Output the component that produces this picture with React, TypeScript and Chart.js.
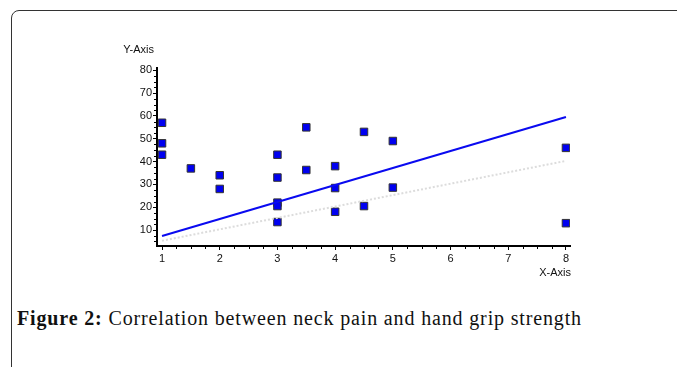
import React, { useEffect, useRef } from "react";
import { Chart, registerables } from "chart.js";

Chart.register(...registerables);

// Scatter observations (neck pain score vs hand grip strength)
const xValues = [1, 1, 1, 1.5, 2, 2, 3, 3, 3, 3, 3, 3.5, 3.5, 4, 4, 4, 4.5, 4.5, 5, 5, 8, 8];
const yValues = [57, 48, 43, 37, 34, 28, 43, 33, 22, 20.5, 13.5, 55, 36.3, 38, 28.4, 18, 53, 20.5, 49, 28.6, 46, 13];

// Fitted line (solid blue) and reference line (dotted light grey)
const fitX = [1, 8];
const fitY = [7.4, 59.5];
const refX = [1, 8];
const refY = [5.3, 40.3];

const xTickValues = [1, 2, 3, 4, 5, 6, 7, 8];
const yTickValues = [10, 20, 30, 40, 50, 60, 70, 80];

const xAxisTitle = "X-Axis";
const yAxisTitle = "Y-Axis";

const minorAndTitles = {
  id: "minorAndTitles",
  afterDraw(chart: any) {
    const { ctx, chartArea } = chart;
    const xs = chart.scales.x;
    const ys = chart.scales.y;
    ctx.save();
    ctx.strokeStyle = "#000";
    ctx.lineWidth = 1;
    ctx.beginPath();
    for (let i = 4; i <= 32; i++) {
      if (i % 4 === 0) continue;
      const v = i / 4;
      const px = Math.round(xs.getPixelForValue(v)) + 0.5;
      ctx.moveTo(px, chartArea.bottom);
      ctx.lineTo(px, chartArea.bottom + 3);
    }
    for (let i = 2; i <= 32; i++) {
      if (i % 4 === 0) continue;
      const v = i * 2.5;
      const py = Math.round(ys.getPixelForValue(v)) + 0.5;
      ctx.moveTo(chartArea.left, py);
      ctx.lineTo(chartArea.left - 3, py);
    }
    ctx.stroke();
    ctx.fillStyle = "#111";
    ctx.font = '11px "Liberation Sans", Arial, sans-serif';
    ctx.textBaseline = "middle";
    ctx.textAlign = "right";
    ctx.fillText(yAxisTitle, chartArea.left - 3, chartArea.top - 18.5);
    ctx.textAlign = "right";
    ctx.fillText(xAxisTitle, chartArea.right + 1, chartArea.bottom + 27);
    ctx.restore();
  },
};

export default function App() {
  const ref = useRef<HTMLCanvasElement | null>(null);

  useEffect(() => {
    if (!ref.current) return;
    const points = xValues.map((x, i) => ({ x, y: yValues[i] }));
    const fit = fitX.map((x, i) => ({ x, y: fitY[i] }));
    const refl = refX.map((x, i) => ({ x, y: refY[i] }));
    const chart = new Chart(ref.current, {
      type: "scatter",
      data: {
        datasets: [
          {
            type: "line",
            data: refl,
            borderColor: "#dcdcdc",
            borderWidth: 2,
            borderDash: [2, 2],
            pointRadius: 0,
            fill: false,
          } as any,
          {
            type: "line",
            data: fit,
            borderColor: "rgb(10,10,240)",
            borderWidth: 2,
            pointRadius: 0,
            fill: false,
          } as any,
          {
            data: points,
            pointStyle: "rect",
            pointRadius: 5.3,
            backgroundColor: "rgb(0,0,240)",
            borderColor: "#333",
            borderWidth: 1,
          },
        ],
      },
      options: {
        animation: false,
        responsive: false,
        maintainAspectRatio: false,
        layout: { padding: { left: 0, top: 38, right: 30, bottom: 0 } },
        plugins: { legend: { display: false }, tooltip: { enabled: false } },
        scales: {
          x: {
            type: "linear",
            min: 0.913,
            max: 8.07,
            afterBuildTicks: (s: any) => {
              s.ticks = xTickValues.map((v) => ({ value: v }));
            },
            afterFit: (s: any) => {
              s.height = 44;
            },
            grid: { display: true, drawOnChartArea: false, drawTicks: true, tickLength: 4, tickColor: "#000", tickWidth: 1 },
            border: { display: true, color: "#000", width: 2 },
            ticks: {
              color: "#111",
              padding: 2,
              font: { family: '"Liberation Sans", Arial, sans-serif', size: 11 },
              maxRotation: 0,
              autoSkip: false,
            },
          },
          y: {
            type: "linear",
            min: 3,
            max: 81,
            afterBuildTicks: (s: any) => {
              s.ticks = yTickValues.map((v) => ({ value: v }));
            },
            afterFit: (s: any) => {
              s.width = 57;
            },
            grid: { display: true, drawOnChartArea: false, drawTicks: true, tickLength: 4, tickColor: "#000", tickWidth: 1 },
            border: { display: true, color: "#000", width: 2 },
            ticks: {
              color: "#111",
              padding: 1,
              font: { family: '"Liberation Sans", Arial, sans-serif', size: 11 },
              autoSkip: false,
            },
          },
        },
      },
      plugins: [minorAndTitles],
    } as any);
    return () => chart.destroy();
  }, []);

  return (
    <div
      style={{
        position: "absolute",
        left: 0,
        top: 0,
        width: 677,
        height: 367,
        overflow: "hidden",
        background: "#fff",
      }}
    >
      <div
        style={{
          position: "absolute",
          left: 11,
          top: 10,
          width: 720,
          height: 420,
          border: "1px solid #333",
          borderTopLeftRadius: 8,
          boxSizing: "border-box",
        }}
      />
      <canvas
        ref={ref}
        width={500}
        height={260}
        style={{ position: "absolute", left: 100, top: 30, width: 500, height: 260 }}
      />
      <div
        style={{
          position: "absolute",
          left: 17,
          top: 306,
          whiteSpace: "nowrap",
          fontFamily: '"Liberation Serif", "DejaVu Serif", serif',
          fontSize: 20,
          letterSpacing: "0.85px",
          lineHeight: "24px",
          color: "#111",
        }}
      >
        <b>Figure 2:</b> Correlation between neck pain and hand grip strength
      </div>
    </div>
  );
}
